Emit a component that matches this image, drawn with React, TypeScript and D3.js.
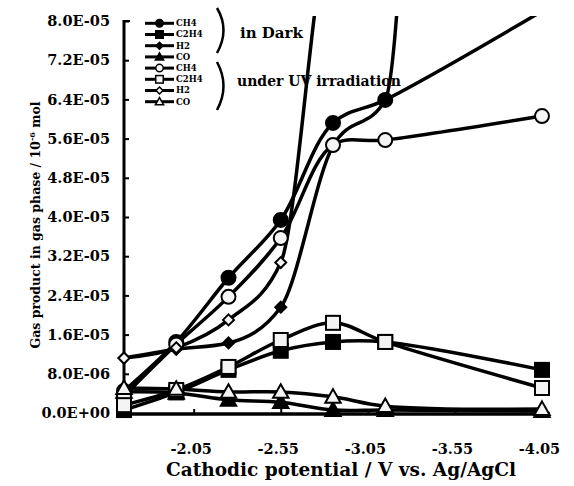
import React, { useRef, useEffect } from 'react'
import { select, scaleLinear, line, curveMonotoneX, curveCatmullRom, axisLeft, axisBottom } from 'd3'

// cathodic potential (V vs. Ag/AgCl)
const potentials = [-1.65, -1.95, -2.25, -2.55, -2.85, -3.15, -4.05]

// in dark
const darkCH4 = [4.5e-6, 1.45e-5, 2.76e-5, 3.94e-5, 5.92e-5, 6.39e-5, 8.2e-5]
const darkC2H4 = [0.6e-6, 4.2e-6, 8.8e-6, 1.27e-5, 1.45e-5, 1.45e-5, 8.8e-6]
const darkH2 = [1.12e-5, 1.3e-5, 1.43e-5, 2.16e-5, 5.45e-5, 6.39e-5, 1.8e-3]
const darkCO = [4.3e-6, 4.1e-6, 2.7e-6, 2.2e-6, 0.6e-6, 0.6e-6, 0.4e-6]

// under UV irradiation
const uvCH4 = [3.5e-6, 1.4e-5, 2.37e-5, 3.57e-5, 5.47e-5, 5.57e-5, 6.06e-5]
const uvC2H4 = [1.6e-6, 4.7e-6, 9.4e-6, 1.49e-5, 1.84e-5, 1.45e-5, 5.1e-6]
const uvH2 = [1.12e-5, 1.33e-5, 1.9e-5, 3.07e-5, 1.0e-4, 1.02e-4, 1.05e-4]
const uvCO = [5.1e-6, 4.9e-6, 4.3e-6, 4.3e-6, 3.3e-6, 1.4e-6, 0.8e-6]

const yTicks = [0, 8e-6, 1.6e-5, 2.4e-5, 3.2e-5, 4.0e-5, 4.8e-5, 5.6e-5, 6.4e-5, 7.2e-5, 8.0e-5]
const xTicks = [-2.05, -2.55, -3.05, -3.55, -4.05]

const series = [
    { name: 'CH4', values: darkCH4, shape: 'circle', filled: true },
    { name: 'C2H4', values: darkC2H4, shape: 'square', filled: true },
    { name: 'H2', values: darkH2, shape: 'diamond', filled: true },
    { name: 'CO', values: darkCO, shape: 'triangle', filled: true },
    { name: 'CH4', values: uvCH4, shape: 'circle', filled: false },
    { name: 'C2H4', values: uvC2H4, shape: 'square', filled: false },
    { name: 'H2', values: uvH2, shape: 'diamond', filled: false },
    { name: 'CO', values: uvCO, shape: 'triangle', filled: false },
]

const FONT = '"DejaVu Serif", serif'

const expLabel = (v: number) => {
    const [m, e] = v.toExponential(1).split('e')
    const n = Math.abs(+e)
    return m + 'E' + (+e < 0 ? '-' : '+') + (n < 10 ? '0' + n : n)
}

const drawMarker = (g: any, shape: string, filled: boolean, cx: number, cy: number, s: number, sw: number) => {
    let m
    if (shape === 'circle') {
        m = g.append('circle').attr('cx', cx).attr('cy', cy).attr('r', s / 2)
    } else if (shape === 'square') {
        m = g.append('rect').attr('x', cx - s / 2).attr('y', cy - s / 2).attr('width', s).attr('height', s)
    } else if (shape === 'diamond') {
        m = g.append('path').attr('d', `M${cx},${cy - s / 2}L${cx + s / 2},${cy}L${cx},${cy + s / 2}L${cx - s / 2},${cy}Z`)
    } else {
        m = g.append('path').attr('d', `M${cx},${cy - s * 0.55}L${cx + s * 0.55},${cy + s * 0.42}L${cx - s * 0.55},${cy + s * 0.42}Z`)
    }
    m.attr('fill', filled ? '#000' : '#f4f4f4').attr('stroke', '#000').attr('stroke-width', sw)
}

const GasChart = () => {
    const svgRef = useRef(null)

    useEffect(() => {
        const svg = select(svgRef.current)
        svg.selectAll('*').remove()

        const xScale = scaleLinear().domain([-1.65, -4.05]).range([124, 542])
        const yScale = scaleLinear().domain([0, 8e-5]).range([413, 21])

        svg.append('defs').append('clipPath').attr('id', 'plot-clip')
            .append('rect').attr('x', 100).attr('y', 16).attr('width', 470).attr('height', 420)

        // y axis
        const yAxis = axisLeft(yScale)
            .tickValues(yTicks)
            .tickFormat((d: any) => expLabel(d))
            .tickSize(-5)
            .tickSizeOuter(0)
            .tickPadding(14)

        const gy = svg.append('g').attr('transform', 'translate(124,0)').call(yAxis)
        gy.select('.domain').remove()
        gy.selectAll('.tick line').attr('stroke', '#000').attr('stroke-width', 2)
        gy.selectAll('.tick text')
            .style('font-family', FONT)
            .style('font-weight', 'bold')
            .style('font-size', '14.5px')
            .attr('fill', '#000')

        svg.append('line')
            .attr('x1', 124).attr('x2', 124).attr('y1', 20).attr('y2', 415)
            .attr('stroke', '#000').attr('stroke-width', 3)
        svg.append('line')
            .attr('x1', 124).attr('x2', 130).attr('y1', 21).attr('y2', 21)
            .attr('stroke', '#000').attr('stroke-width', 2)

        // x axis
        const xAxis = axisBottom(xScale)
            .tickValues(xTicks)
            .tickFormat((d: any) => d.toFixed(2))
            .tickSize(-5)
            .tickSizeOuter(0)
            .tickPadding(30)

        const gx = svg.append('g').attr('transform', 'translate(0,414)').call(xAxis)
        gx.select('.domain').remove()
        gx.selectAll('.tick line').attr('stroke', '#000').attr('stroke-width', 2)
        gx.selectAll('.tick text')
            .attr('dx', -3)
            .style('font-family', FONT)
            .style('font-weight', 'bold')
            .style('font-size', '14.5px')
            .attr('fill', '#000')

        svg.append('line')
            .attr('x1', 122).attr('x2', 550).attr('y1', 414).attr('y2', 414)
            .attr('stroke', '#000').attr('stroke-width', 3.5)

        // axis titles
        svg.append('text')
            .attr('x', 341).attr('y', 476)
            .attr('text-anchor', 'middle')
            .style('font-family', FONT).style('font-weight', 'bold').style('font-size', '18.5px')
            .text('Cathodic potential / V vs. Ag/AgCl')

        const yt = svg.append('text')
            .attr('transform', 'translate(40,225) rotate(-90)')
            .attr('text-anchor', 'middle')
            .style('font-family', FONT).style('font-weight', 'bold').style('font-size', '12.5px')
        yt.append('tspan').text('Gas product in gas phase / 10')
        yt.append('tspan').attr('dy', -5).style('font-size', '8px').text('-6')
        yt.append('tspan').attr('dy', 5).text(' mol')

        // series lines (H2 curves shoot off the top, monotone keeps them from looping)
        const plot = svg.append('g').attr('clip-path', 'url(#plot-clip)')
        const makeLine = (curve: any) => line<number>()
            .x((d, i) => xScale(potentials[i]))
            .y((d) => yScale(d))
            .curve(curve)
        const smoothLine = makeLine(curveCatmullRom.alpha(0.5))
        const steepLine = makeLine(curveMonotoneX)

        series.forEach((s) => {
            const gen = s.name === 'H2' ? steepLine : smoothLine
            plot.append('path')
                .attr('d', gen(s.values))
                .attr('fill', 'none')
                .attr('stroke', '#000')
                .attr('stroke-width', 3.5)
                .attr('stroke-linejoin', 'round')
        })

        // markers
        series.forEach((s) => {
            const size = s.shape === 'diamond' ? 11 : 14
            s.values.forEach((v, i) => {
                if (v > 8.05e-5) return
                drawMarker(plot, s.shape, s.filled, xScale(potentials[i]), yScale(v), size, 2)
            })
        })

        // legend
        const lg = svg.append('g')
        series.forEach((s, i) => {
            const ly = 23.3 + i * 11.2
            lg.append('line')
                .attr('x1', 145).attr('x2', 174).attr('y1', ly).attr('y2', ly)
                .attr('stroke', '#000').attr('stroke-width', 3)
            drawMarker(lg, s.shape, s.filled, 159.5, ly, s.shape === 'diamond' ? 7 : 7.5, 1.5)
            lg.append('text')
                .attr('x', 176).attr('y', ly).attr('dy', '0.35em')
                .style('font-family', FONT).style('font-weight', 'bold').style('font-size', '8.5px')
                .text(s.name)
        })

        lg.append('path').attr('d', 'M217,8 Q230,30 217,53')
            .attr('fill', 'none').attr('stroke', '#000').attr('stroke-width', 2.5)
        lg.append('path').attr('d', 'M217,62 Q230,86 217,110')
            .attr('fill', 'none').attr('stroke', '#000').attr('stroke-width', 2.5)

        lg.append('text')
            .attr('x', 240).attr('y', 38)
            .style('font-family', FONT).style('font-weight', 'bold').style('font-size', '15px')
            .text('in Dark')
        lg.append('text')
            .attr('x', 237).attr('y', 86)
            .style('font-family', FONT).style('font-weight', 'bold').style('font-size', '14px')
            .text('under UV irradiation')
    }, [])

    return (
        <svg ref={svgRef} width={574} height={486}
            style={{ position: 'absolute', left: 0, top: 0, background: '#fff' }} />
    )
}

export default function App() {
    return <GasChart />
}
